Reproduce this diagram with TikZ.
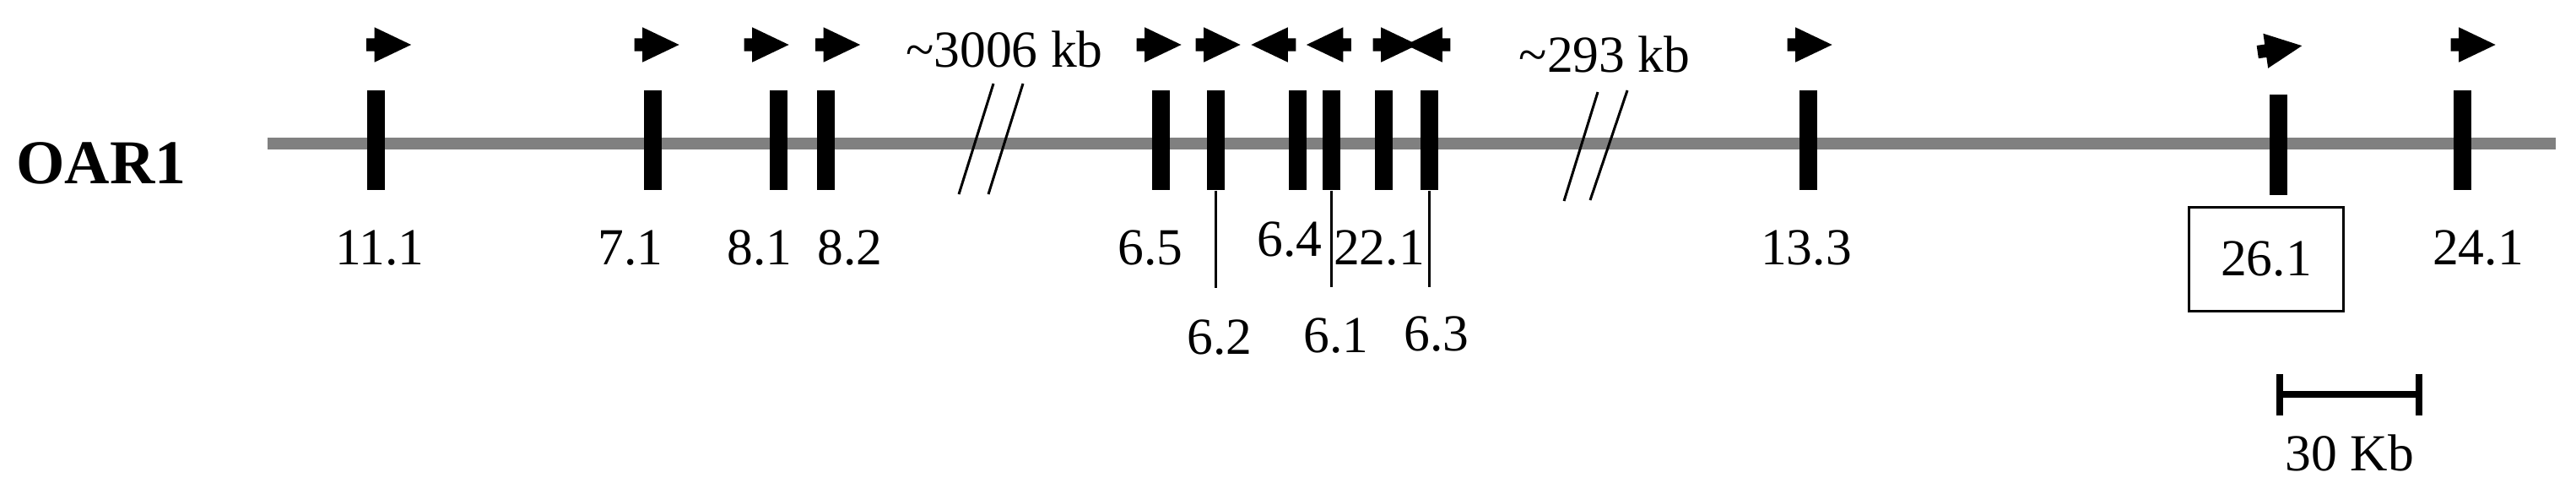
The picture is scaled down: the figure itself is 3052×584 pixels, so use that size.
\documentclass[tikz,border=0pt]{standalone}
\usepackage{fontspec}
\setmainfont{Liberation Serif}
\usepackage{tikz}
\usetikzlibrary{shapes,arrows.meta,positioning,calc}

\begin{document}
\begin{tikzpicture}[x=0.01cm, y=-0.01cm,
    exon/.style={rectangle, fill=black, inner sep=0pt, minimum width=0.21cm, minimum height=1.18cm},
    fwd/.style={single arrow, fill=black, inner xsep=0pt, inner ysep=0.07cm, minimum height=0.53cm, single arrow head extend=0.13cm, single arrow tip angle=51},
    rev/.style={fwd, shape border rotate=180},
    lbl/.style={anchor=base, inner sep=0pt, font=\fontsize{17.5}{20}\selectfont},
    leader/.style={line width=0.03cm}]

    \useasboundingbox (0,0) rectangle (3052,584);

    \node[anchor=base, inner sep=0pt, font=\fontsize{21}{24}\selectfont\bfseries] (chr) at (120,217) {OAR1};
    \coordinate (chrL) at (317,170);
    \coordinate (chrR) at (3028,170);
    \draw[line width=0.14cm, black!50] (chrL) -- (chrR);

    \coordinate (b1a) at (1177,99);
    \coordinate (b1b) at (1136,230);
    \coordinate (b1c) at (1212,99);
    \coordinate (b1d) at (1171,230);
    \coordinate (b2a) at (1893,109);
    \coordinate (b2b) at (1853,238);
    \coordinate (b2c) at (1928,107);
    \coordinate (b2d) at (1884,237);
    \draw[leader] (b1a) -- (b1b);
    \draw[leader] (b1c) -- (b1d);
    \draw[leader] (b2a) -- (b2b);
    \draw[leader] (b2c) -- (b2d);
    \node[lbl] (gap1) at (1190,79) {\textasciitilde 3006 kb};
    \node[lbl] (gap2) at (1901,85) {\textasciitilde 293 kb};

    \node[exon] (e111) at (445.5,166) {};
    \node[exon] (e71) at (773,166) {};
    \node[exon] (e81) at (922.5,166) {};
    \node[exon] (e82) at (978.5,166) {};
    \node[exon] (e65) at (1375.5,166) {};
    \node[exon] (e62) at (1440,166) {};
    \node[exon] (e64) at (1537,166) {};
    \node[exon] (e61) at (1577,166) {};
    \node[exon] (e221) at (1639,166) {};
    \node[exon] (e63) at (1693,166) {};
    \node[exon] (e133) at (2142,166) {};
    \node[exon] (e261) at (2699,171.5) {};
    \node[exon] (e241) at (2917,166) {};

    \node[fwd] (a111) at (452.5,53) {};
    \node[fwd] (a71) at (770,53) {};
    \node[fwd] (a81) at (900,53) {};
    \node[fwd] (a82) at (984.5,53) {};
    \node[fwd] (a65) at (1365,53) {};
    \node[fwd] (a62) at (1435,53) {};
    \node[rev] (a64) at (1517,53) {};
    \node[rev] (a61) at (1582.5,53) {};
    \node[fwd] (a221) at (1645,53) {};
    \node[rev] (a63) at (1700,53) {};
    \node[fwd] (a133) at (2136,53) {};
    \node[fwd, rotate=8] (a261) at (2693,59) {};
    \node[fwd] (a241) at (2922,53) {};

    \node[lbl] (l111) at (450,313) {11.1};
    \node[lbl] (l71) at (747,313) {7.1};
    \node[lbl] (l81) at (900,313) {8.1};
    \node[lbl] (l82) at (1007,313) {8.2};
    \node[lbl] (l65) at (1363,313) {6.5};
    \node[lbl] (l64) at (1528,303) {6.4};
    \node[lbl] (l221) at (1634,313) {22.1};
    \node[lbl] (l133) at (2140,313) {13.3};
    \node[lbl] (l241) at (2936,313) {24.1};
    \node[lbl] (l62) at (1445,419) {6.2};
    \node[lbl] (l61) at (1583,417) {6.1};
    \node[lbl] (l63) at (1702,415) {6.3};
    \node[draw, line width=0.03cm, inner sep=0pt, minimum width=1.82cm, minimum height=1.22cm, font=\fontsize{17.5}{20}\selectfont] (l261) at (2685,307) {26.1};

    \coordinate (t62) at (1440,341);
    \coordinate (t61) at (1577,340);
    \coordinate (t63) at (1693,340);
    \draw[leader] (e62.south) -- (t62);
    \draw[leader] (e61.south) -- (t61);
    \draw[leader] (e63.south) -- (t63);

    \coordinate (sbL) at (2697,467);
    \coordinate (sbR) at (2870,467);
    \draw[line width=0.08cm, {Bar[width=0.49cm]}-{Bar[width=0.49cm]}] (sbL) -- (sbR);
    \node[lbl] (sbtxt) at (2784,557) {30 Kb};

\end{tikzpicture}
\end{document}
